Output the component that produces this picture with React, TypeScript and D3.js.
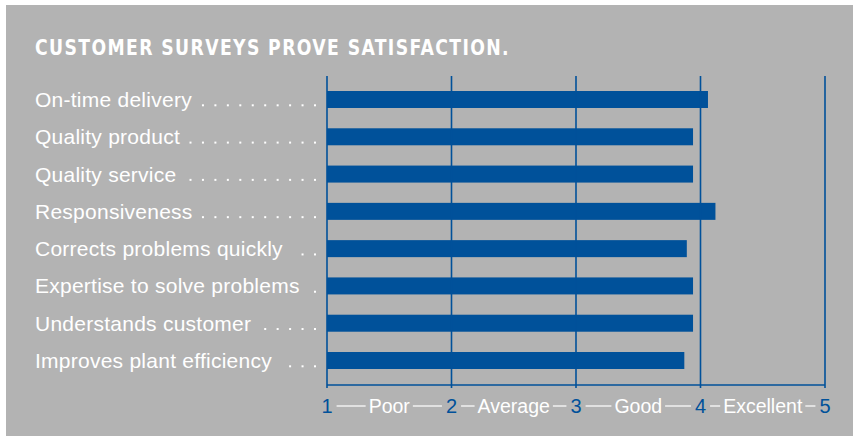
import React, { useEffect, useRef } from 'react';
import * as d3 from 'd3';

const categories = [
  'On-time delivery',
  'Quality product',
  'Quality service',
  'Responsiveness',
  'Corrects problems quickly',
  'Expertise to solve problems',
  'Understands customer',
  'Improves plant efficiency',
];
const scores = [4.06, 3.94, 3.94, 4.12, 3.89, 3.94, 3.94, 3.87];
const tickValues = [1, 2, 3, 4, 5];
const ratingLabels = ['Poor', 'Average', 'Good', 'Excellent'];

const BLUE = '#00519a';
const FONT = '"Liberation Sans", Arial, Helvetica, sans-serif';

const App: React.FC = () => {
  const svgRef = useRef<SVGSVGElement>(null);

  useEffect(() => {
    if (!svgRef.current) return;
    document.body.style.margin = '0';
    const svg = d3.select(svgRef.current);
    svg.selectAll('*').remove();

    const width = 853;
    const height = 436;

    // gray panel
    svg.append('rect')
      .attr('x', 6).attr('y', 5)
      .attr('width', width - 6).attr('height', height - 5)
      .attr('fill', '#b3b3b3');

    // title
    svg.append('text')
      .attr('x', 35).attr('y', 55)
      .attr('textLength', 475)
      .attr('lengthAdjust', 'spacingAndGlyphs')
      .attr('fill', 'white')
      .style('font-family', '"Liberation Sans Narrow", "DejaVu Sans Condensed", "Arial Narrow", sans-serif')
      .style('font-stretch', 'condensed')
      .style('font-weight', 'bold')
      .style('font-size', '21px')
      .style('letter-spacing', '1.5px')
      .text('CUSTOMER SURVEYS PROVE SATISFACTION.');

    const x = d3.scaleLinear().domain([1, 5]).range([327, 825]);
    const y = d3.scalePoint<string>().domain(categories).range([99.5, 360.5]);
    const barH = 17;
    const gridTop = 76;
    const axisY = 385;

    // bars
    svg.append('g')
      .selectAll('rect')
      .data(categories)
      .join('rect')
      .attr('x', x(1))
      .attr('y', d => y(d)! - barH / 2)
      .attr('width', (d, i) => x(scores[i]) - x(1))
      .attr('height', barH)
      .attr('fill', BLUE);

    // grid lines
    svg.append('g')
      .selectAll('line')
      .data(tickValues)
      .join('line')
      .attr('x1', d => x(d)).attr('x2', d => x(d))
      .attr('y1', gridTop).attr('y2', axisY + 3)
      .attr('stroke', BLUE)
      .attr('stroke-width', 1.6);

    // bottom axis line
    svg.append('line')
      .attr('x1', x(1)).attr('x2', x(5))
      .attr('y1', axisY).attr('y2', axisY)
      .attr('stroke', BLUE)
      .attr('stroke-width', 1.6);

    // category labels with dot leaders
    const labelG = svg.append('g');
    categories.forEach(c => {
      const base = y(c)! + 7.5;
      const t = labelG.append('text')
        .attr('x', 35)
        .attr('y', base)
        .attr('fill', 'white')
        .style('font-family', FONT)
        .style('font-size', '21px')
        .style('letter-spacing', '0.25px')
        .text(c);
      const w = (t.node() as SVGTextElement).getComputedTextLength();
      const end = 35 + w;
      const dots: number[] = [];
      for (let dx = 315; dx > end + 8; dx -= 12.45) dots.push(dx);
      labelG.selectAll(null)
        .data(dots)
        .join('rect')
        .attr('x', d => d - 1)
        .attr('y', base - 2.7)
        .attr('width', 2)
        .attr('height', 2)
        .attr('fill', 'white');
    });

    // tick numbers
    const tickY = 413;
    const numG = svg.append('g');
    const numW: number[] = [];
    tickValues.forEach(v => {
      const t = numG.append('text')
        .attr('x', x(v))
        .attr('y', tickY)
        .attr('text-anchor', 'middle')
        .attr('fill', BLUE)
        .style('font-family', FONT)
        .style('font-size', '20px')
        .text(String(v));
      numW.push((t.node() as SVGTextElement).getComputedTextLength());
    });

    // rating words with connecting dashes
    ratingLabels.forEach((lab, i) => {
      const mid = (x(tickValues[i]) + x(tickValues[i + 1])) / 2;
      const t = numG.append('text')
        .attr('x', mid)
        .attr('y', tickY)
        .attr('text-anchor', 'middle')
        .attr('fill', 'white')
        .style('font-family', FONT)
        .style('font-size', '19.5px')
        .text(lab);
      const w = (t.node() as SVGTextElement).getComputedTextLength();
      const ly = tickY - 7;
      const segs = [
        [x(tickValues[i]) + numW[i] / 2 + 4, mid - w / 2 - 3],
        [mid + w / 2 + 3, x(tickValues[i + 1]) - numW[i + 1] / 2 - 4],
      ];
      segs.forEach(([a, b]) => {
        numG.append('line')
          .attr('x1', a).attr('x2', b)
          .attr('y1', ly).attr('y2', ly)
          .attr('stroke', 'white')
          .attr('stroke-width', 1.2);
      });
    });
  }, []);

  return <svg ref={svgRef} width={853} height={436} style={{ display: 'block' }}></svg>;
};

export default App;
